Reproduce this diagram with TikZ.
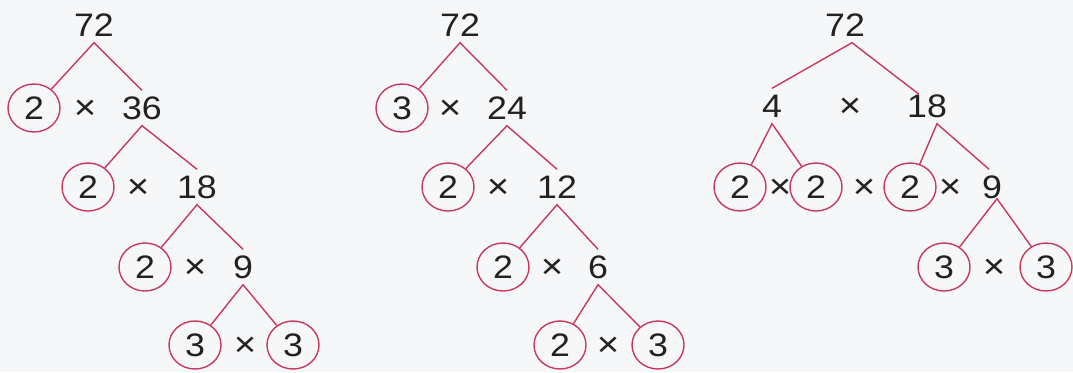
\documentclass[tikz,border=0pt]{standalone}
\usepackage{fontspec}
\setmainfont[FakeStretch=1.1]{Liberation Sans}
\usetikzlibrary{shapes.geometric}
\definecolor{bg}{HTML}{F6F7F9}
\definecolor{branch}{HTML}{C8385A}
\definecolor{ink}{HTML}{222222}
\tikzset{
  num/.style={font=\fontsize{32.5}{36}\selectfont, text=ink, inner sep=6pt, text height=23pt, text depth=0pt},
  prime/.style={num, ellipse, draw=branch, line width=1.4pt, minimum width=52pt, minimum height=48pt, inner sep=0pt},
  times/.style={font=\fontsize{35}{36}\selectfont, text=ink, inner sep=0pt, text height=23pt, text depth=0pt},
  br/.style={draw=branch, line width=1.4pt}
}
\begin{document}
\begin{tikzpicture}[x=1pt,y=-1pt]
\fill[bg] (0,0) rectangle (1073,372);
\useasboundingbox (0,0) rectangle (1073,372);
% ---------------- Tree 1 ----------------
\node[num] (a0) at (94,25) {72};
\node[prime] (a1) at (34,108) {2};
\node[times] (ax1) at (85,108) {×};
\node[num] (a2) at (142,108) {36};
\node[prime] (a3) at (88,187) {2};
\node[times] (ax2) at (138,187) {×};
\node[num] (a4) at (197,187) {18};
\node[prime] (a5) at (145,267) {2};
\node[times] (ax3) at (195,267) {×};
\node[num] (a6) at (243,267) {9};
\node[prime] (a7) at (195,345) {3};
\node[times] (ax4) at (245,345) {×};
\node[prime] (a8) at (293,345) {3};
\draw[br] (a1) -- (a0.south) -- (a2.north);
\draw[br] (a3) -- (a2.south) -- (a4.north);
\draw[br] (a5) -- (a4.south) -- (a6.north);
\draw[br] (a7) -- (a6.south) -- (a8);
% ---------------- Tree 2 ----------------
\node[num] (b0) at (460,25) {72};
\node[prime] (b1) at (402,108) {3};
\node[times] (bx1) at (450,108) {×};
\node[num] (b2) at (507,108) {24};
\node[prime] (b3) at (448,187) {2};
\node[times] (bx2) at (498,187) {×};
\node[num] (b4) at (557,187) {12};
\node[prime] (b5) at (503,267) {2};
\node[times] (bx3) at (552,267) {×};
\node[num] (b6) at (598,267) {6};
\node[prime] (b7) at (560,345) {2};
\node[times] (bx4) at (608,345) {×};
\node[prime] (b8) at (658,345) {3};
\draw[br] (b1) -- (b0.south) -- (b2.north);
\draw[br] (b3) -- (b2.south) -- (b4.north);
\draw[br] (b5) -- (b4.south) -- (b6.north);
\draw[br] (b7) -- (b6.south) -- (b8);
% ---------------- Tree 3 ----------------
\node[num] (c0) at (845,25) {72};
\node[num] (c1) at (772,106) {4};
\node[times] (cx1) at (850,106) {×};
\node[num] (c2) at (927,106) {18};
\node[prime] (c3) at (740,187) {2};
\node[times] (cx2) at (780,187) {×};
\node[prime] (c4) at (816,187) {2};
\node[times] (cx3) at (864,187) {×};
\node[prime] (c5) at (910,187) {2};
\node[times] (cx4) at (950,187) {×};
\node[num] (c6) at (992,187) {9};
\node[prime] (c7) at (944,267) {3};
\node[times] (cx5) at (994,267) {×};
\node[prime] (c8) at (1046,267) {3};
\draw[br] (c1.north) -- ([xshift=7pt]c0.south) -- ([shift={(-8pt,-6pt)}]c2.north);
\draw[br] (c3) -- (c1.south) -- (c4);
\draw[br] (c5) -- ([xshift=10pt]c2.south) -- ([xshift=-3pt]c6.north);
\draw[br] (c7) -- ([shift={(5pt,6pt)}]c6.south) -- (c8);
\end{tikzpicture}
\end{document}
